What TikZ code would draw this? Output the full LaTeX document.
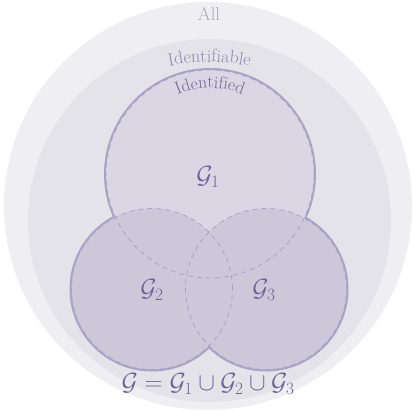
\documentclass[tikz,border=0pt]{standalone}
\usetikzlibrary{decorations.text}
\definecolor{allfill}{HTML}{EFEEF3}
\definecolor{idblefill}{HTML}{E4E3EA}
\definecolor{gonefill}{HTML}{DAD6E3}
\definecolor{gtwofill}{HTML}{CCC8DA}
\definecolor{edgecol}{HTML}{A9A3C5}
\definecolor{alltext}{HTML}{ABA7C4}
\definecolor{idbletext}{HTML}{8F8AB0}
\definecolor{idtext}{HTML}{6E6899}
\definecolor{mathtext}{HTML}{6A6596}
\tikzset{
  outline/.style={draw=edgecol, line width=4pt},
  inner/.style={draw=edgecol, line width=0.8pt, dash pattern=on 5pt off 4pt},
  mlabel/.style={text=mathtext, font=\fontsize{23}{23}\selectfont, inner sep=0pt}
}
\begin{document}
\begin{tikzpicture}[x=1pt,y=1pt]
\useasboundingbox (0,0) rectangle (412,412);
\clip (0,0) rectangle (412,412);
% All
\fill[allfill] (208,206) circle[radius=204];
% Identifiable
\fill[idblefill] (209.5,191.5) circle[radius=181.5];
% circles
\coordinate (c1) at (210,238);
\coordinate (c2) at (152,123);
\coordinate (c3) at (266,123);
\draw[outline] (c1) circle[radius=104];
\draw[outline] (c2) circle[radius=80.5];
\draw[outline] (c3) circle[radius=80.5];
\fill[gonefill] (c1) circle[radius=104];
\fill[gtwofill] (c2) circle[radius=80.5];
\fill[gtwofill] (c3) circle[radius=80.5];
\draw[inner] (c1) circle[radius=104];
\draw[inner] (c2) circle[radius=80.5];
\draw[inner] (c3) circle[radius=80.5];
% labels
\node[text=alltext, font=\fontsize{18.5}{18.5}\selectfont, inner sep=0pt] (all) at (209,398) {All};
\path[decorate, decoration={text along path, text align=center,
  text={|\fontsize{18}{18}\selectfont\color{idbletext}|Identifiable}}]
  (209.5,150) ++(104:200) arc[start angle=104, end angle=76, radius=200];
\path[decorate, decoration={text along path, text align=center,
  text={|\fontsize{17.5}{17.5}\selectfont\color{idtext}|Identified}}]
  (210,242) ++(122:82) arc[start angle=122, end angle=58, radius=82];
\node[mlabel] (g1) at (208,235) {$\mathcal{G}_1$};
\node[mlabel] (g2) at (152,122) {$\mathcal{G}_2$};
\node[mlabel] (g3) at (264,122) {$\mathcal{G}_3$};
\node[mlabel] (gall) at (208,28) {$\mathcal{G}=\mathcal{G}_1\cup\mathcal{G}_2\cup\mathcal{G}_3$};
\end{tikzpicture}
\end{document}
